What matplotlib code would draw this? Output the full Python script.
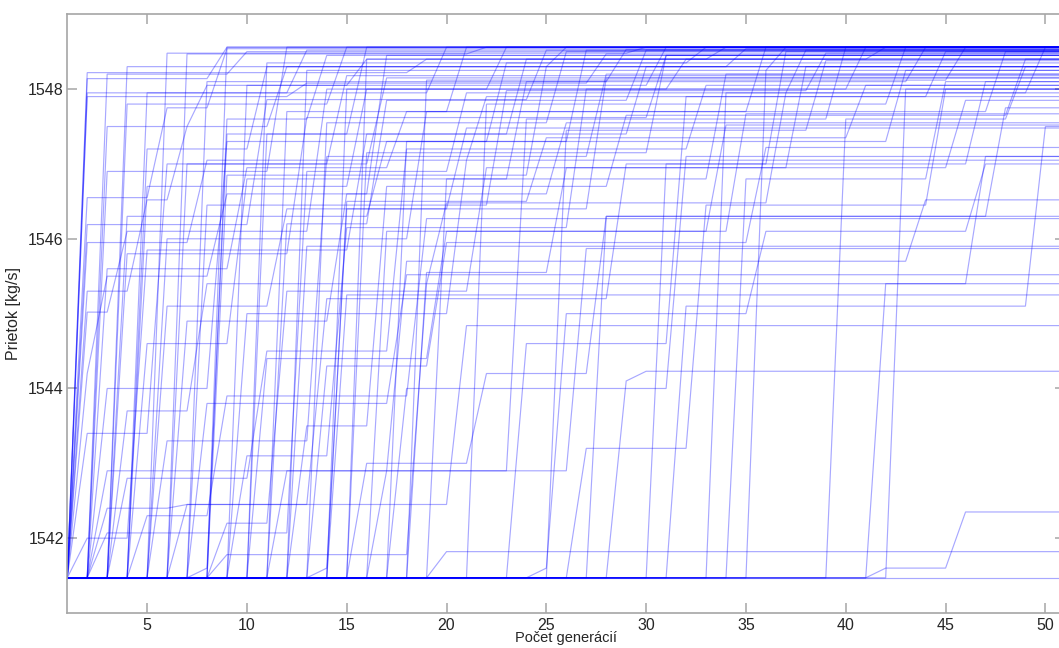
import numpy as np
import matplotlib
matplotlib.use("Agg")
import matplotlib.pyplot as plt

# Best flow found in each optimisation run, per generation.
# Every run starts at the same value; each entry (generation, value)
# is an improvement, held until the next one.
generations = np.arange(1, 52)
start_value = 1541.47

runs_gen2 = [
    [(2, 1548.22), (19, 1548.40), (34, 1548.56)],
    [(2, 1548.14), (9, 1548.56)],
    [(2, 1547.90), (13, 1548.08), (28, 1548.47)],
    [(2, 1546.55), (6, 1547.75), (9, 1548.54)],
    [(2, 1546.19), (11, 1547.86), (25, 1548.52)],
    [(2, 1545.30), (5, 1546.52), (7, 1547.50), (12, 1548.30)],
    [(2, 1545.02), (4, 1546.10), (14, 1548.00), (41, 1548.56)],
    [(2, 1542.00), (5, 1545.85), (16, 1547.40), (30, 1548.30)],
    [(2, 1544.20), (3, 1545.50), (9, 1546.60), (17, 1548.45)],
    [(2, 1547.95), (20, 1548.56)],
    [(2, 1545.95), (8, 1547.05), (22, 1547.90), (45, 1548.50)],
    [(2, 1543.40), (6, 1547.00), (15, 1548.18)],
]

runs_gen3_5 = [
    [(3, 1548.20), (10, 1548.50)],
    [(3, 1542.90), (27, 1545.87)],
    [(3, 1542.07), (13, 1546.90), (21, 1547.95), (38, 1548.52)],
    [(3, 1547.50), (8, 1548.05), (16, 1548.40)],
    [(3, 1545.60), (10, 1546.95), (18, 1547.70), (36, 1548.56)],
    [(3, 1542.40), (7, 1542.45), (14, 1545.20), (29, 1547.00), (47, 1548.10)],
    [(3, 1546.90), (12, 1548.56)],
    [(3, 1544.00), (9, 1547.30), (23, 1548.35)],
    [(4, 1542.80), (11, 1544.50), (18, 1547.20), (33, 1548.05)],
    [(4, 1547.80), (15, 1548.56)],
    [(4, 1545.80), (13, 1547.62), (31, 1548.45)],
    [(4, 1543.70), (8, 1545.40), (20, 1546.48), (37, 1547.95)],
    [(4, 1548.30), (26, 1548.56)],
    [(4, 1546.30), (17, 1547.30), (43, 1548.25)],
    [(5, 1547.95), (13, 1548.52)],
    [(5, 1544.60), (10, 1546.80), (24, 1548.10), (44, 1548.56)],
    [(5, 1546.70), (16, 1548.00), (32, 1548.40)],
    [(5, 1542.30), (9, 1543.90), (19, 1546.27)],
    [(5, 1547.20), (11, 1548.30), (35, 1548.54)],
]

runs_gen6_10 = [
    [(6, 1548.48), (30, 1548.56)],
    [(6, 1545.10), (12, 1546.40), (21, 1547.48)],
    [(6, 1543.30), (14, 1547.10), (28, 1548.20)],
    [(6, 1546.00), (19, 1547.70), (48, 1548.50)],
    [(7, 1548.47), (22, 1548.56)],
    [(7, 1542.45), (21, 1544.84)],
    [(7, 1547.00), (17, 1548.15)],
    [(7, 1544.90), (15, 1546.60), (26, 1547.55)],
    [(8, 1541.60), (9, 1547.40), (16, 1548.56)],
    [(8, 1546.45), (23, 1547.98), (39, 1548.48)],
    [(8, 1543.80), (18, 1545.52)],
    [(8, 1548.10), (29, 1548.53)],
    [(9, 1548.56)],
    [(9, 1542.20), (12, 1545.30), (22, 1546.95), (46, 1547.85)],
    [(9, 1541.78), (19, 1545.40)],
    [(9, 1546.85), (25, 1548.30)],
    [(9, 1547.60), (14, 1548.45)],
    [(10, 1548.05), (31, 1548.56)],
    [(10, 1545.00), (21, 1547.05)],
    [(10, 1543.10), (15, 1546.15), (27, 1548.00)],
]

runs_gen11_20 = [
    [(11, 1547.40), (24, 1548.40), (42, 1548.56)],
    [(11, 1544.40), (20, 1546.10), (35, 1547.67)],
    [(11, 1548.35), (33, 1548.56)],
    [(12, 1546.20), (17, 1547.85), (30, 1548.52)],
    [(12, 1542.90), (18, 1545.70), (44, 1546.52)],
    [(12, 1547.70), (21, 1548.56)],
    [(13, 1548.25), (37, 1548.56)],
    [(13, 1545.90)],
    [(13, 1543.50), (17, 1546.70), (29, 1547.65), (49, 1548.40)],
    [(14, 1547.55), (26, 1548.50)],
    [(14, 1544.30), (20, 1545.95), (36, 1547.22)],
    [(14, 1541.60), (15, 1546.40), (28, 1548.15)],
    [(15, 1548.00), (23, 1548.56)],
    [(15, 1545.25)],
    [(15, 1546.50), (25, 1547.35), (41, 1548.05)],
    [(16, 1547.15), (31, 1548.45)],
    [(16, 1543.00), (22, 1544.20), (28, 1546.30)],
    [(16, 1548.40)],
    [(17, 1546.10), (34, 1547.52)],
    [(17, 1542.90), (24, 1547.60), (40, 1548.56)],
    [(18, 1547.30), (27, 1548.52)],
    [(18, 1544.00), (32, 1547.10)],
    [(19, 1545.55), (26, 1546.95), (38, 1548.30)],
    [(19, 1548.12), (46, 1548.56)],
    [(20, 1541.82)],
    [(20, 1546.80), (34, 1548.20)],
]

runs_late = [
    [(22, 1547.80), (43, 1548.56)],
    [(24, 1544.60), (32, 1547.90)],
    [(25, 1541.60), (26, 1545.00), (36, 1546.10), (47, 1547.00)],
    [(26, 1547.45), (39, 1548.38)],
    [(27, 1543.20), (33, 1546.45), (45, 1548.00)],
    [(28, 1546.30), (48, 1547.75)],
    [(29, 1544.10), (30, 1544.23)],
    [(31, 1547.00), (37, 1548.50)],
    [(32, 1545.10), (50, 1547.50)],
    [(34, 1547.95), (50, 1548.56)],
    [(35, 1546.80), (45, 1548.10)],
    [(36, 1548.25)],
    [(40, 1547.60), (49, 1548.30)],
    [(42, 1541.60), (46, 1542.35)],
    [(42, 1545.40), (47, 1547.10)],
    [(43, 1548.00)],
    [],
]

x_ticks = [5, 10, 15, 20, 25, 30, 35, 40, 45, 50]
y_ticks = [1542, 1544, 1546, 1548]
x_label = "Počet generácií"
y_label = "Prietok [kg/s]"


def history(improvements):
    """Best value at each generation, holding the last improvement."""
    values = np.full(generations.shape, start_value, dtype=float)
    for gen, val in improvements:
        values[generations >= gen] = val
    return values


plt.rcParams["font.family"] = ["Liberation Sans", "DejaVu Sans"]

fig = plt.figure(figsize=(10.59, 6.48), dpi=100)
ax = fig.add_axes([0.0635, 0.054, 0.9425, 0.924])

all_runs = runs_gen2 + runs_gen3_5 + runs_gen6_10 + runs_gen11_20 + runs_late
for run in all_runs:
    ax.plot(generations, history(run), color=(0.0, 0.0, 1.0), alpha=0.34,
            linewidth=0.85, solid_joinstyle="miter")

ax.set_xlim(1, 51)
ax.set_ylim(1541, 1549)
ax.set_xticks(x_ticks)
ax.set_yticks(y_ticks)

spine_grey = "#a6a6a6"
for s in ax.spines.values():
    s.set_color(spine_grey)
    s.set_linewidth(1.2)
ax.tick_params(direction="in", length=7, width=1.1, color=spine_grey,
               labelcolor="#262626", labelsize=11.5, top=True, right=True)
ax.tick_params(axis="y", pad=2.5)
ax.tick_params(axis="x", pad=3.5)

ax.set_xlabel(x_label, fontsize=10.5, color="#262626", labelpad=-1)
ax.set_ylabel(y_label, fontsize=11.5, color="#262626", labelpad=5)

fig.savefig("out.png", dpi=100)
